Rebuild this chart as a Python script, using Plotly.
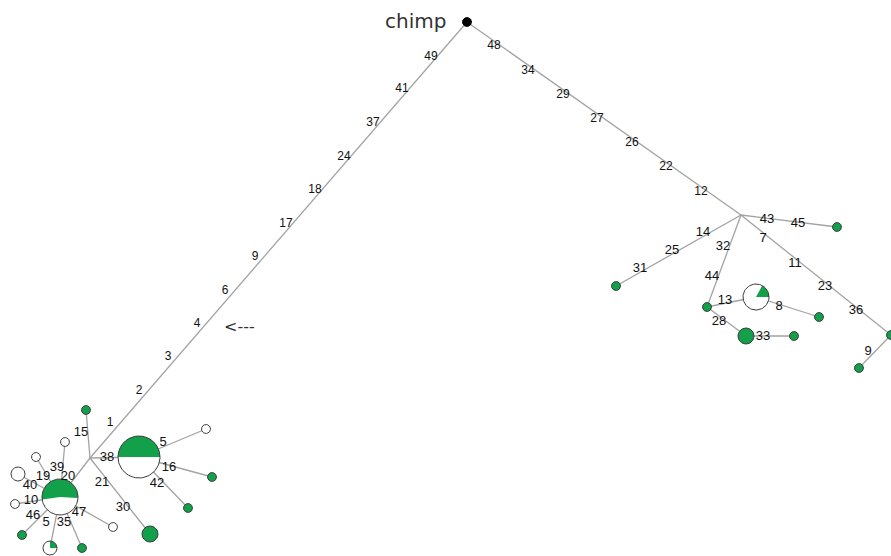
import math
import plotly.graph_objects as go

# ---------------- data ----------------
node_ids = ["chimp", "JL", "JR",
            "g15", "P38", "w5", "g16", "g42", "g30", "P20",
            "w39", "w19", "w40", "w10", "g46", "p5", "g35", "w47",
            "g45", "g31", "g44", "P13", "g8", "G28", "g33", "n36", "g9"]
node_x = [467, 90, 741,
          86, 139, 206, 212, 188, 150, 60,
          65, 36, 18, 15, 22, 50, 82, 113,
          837, 616, 707, 756, 819, 746, 794, 891, 859]
node_y = [22, 458, 215,
          410, 457, 429, 477, 508, 534, 497,
          442, 457, 474, 504, 535, 548, 548, 527,
          227, 286, 307, 297, 317, 336, 336, 335, 368]
node_r = [4.5, 0, 0,
          4.5, 21, 4.5, 4.5, 4.5, 8, 18,
          4.5, 4.5, 7, 4.5, 4.5, 7, 4.5, 4.5,
          4.5, 4.5, 4.5, 13, 4.5, 8, 4.5, 4.5, 4.5]
green_frac = [0, 0, 0,
              1, 0.5, 0, 1, 1, 1, 0.53,
              0, 0, 0, 0, 1, 0.25, 1, 0,
              1, 1, 1, 0.17, 1, 1, 1, 1, 1]
wedge_start = [0, 0, 0,
               0, 0, 0, 0, 0, 0, -3,
               0, 0, 0, 0, 0, 0, 0, 0,
               0, 0, 0, 0, 0, 0, 0, 0, 0]

edge_from = ["chimp", "chimp", "JL", "JL", "P38", "P38", "P38", "JL", "JL",
             "P20", "P20", "P20", "P20", "P20", "P20", "P20", "P20",
             "JR", "JR", "JR", "g44", "P13", "g44", "G28", "JR", "n36"]
edge_to = ["JL", "JR", "g15", "P38", "w5", "g16", "g42", "g30", "P20",
           "w39", "w19", "w40", "w10", "g46", "p5", "g35", "w47",
           "g45", "g31", "g44", "P13", "g8", "G28", "g33", "n36", "g9"]

# mutation labels on the two long branches
trunk_text = ["49", "41", "37", "24", "18", "17", "9", "6", "4", "3", "2", "1",
              "48", "34", "29", "27", "26", "22", "12"]
trunk_x = [431, 402, 373, 344, 315, 286, 255, 225, 197, 168, 139, 110,
           494, 528, 563, 597, 632, 666, 701]
trunk_y = [57, 89, 123, 157, 190, 224, 257, 291, 324, 357, 391, 423,
           46, 71, 95, 119, 143, 167, 192]

# mutation labels inside the clusters
cluster_text = ["43", "45", "14", "25", "31", "32", "44", "13", "8", "28", "33",
                "7", "11", "23", "36", "9",
                "15", "38", "5", "16", "42", "21", "30", "20",
                "39", "19", "40", "10", "46", "5", "35", "47"]
cluster_x = [767, 798, 703, 672, 640, 723, 712, 725, 779, 719, 763,
             763, 795, 825, 856, 868,
             81, 107, 163, 169, 157, 102, 123, 68,
             57, 43, 30, 31, 33, 46, 64, 79]
cluster_y = [220, 224, 233, 251, 269, 247, 277, 301, 307, 322, 337,
             239, 264, 287, 311, 352,
             433, 458, 443, 468, 484, 483, 508, 477,
             468, 477, 486, 501, 516, 523, 523, 513]

GREEN = "#12a04a"
EDGE = "#a3a3a3"
OUTLINE = "#3a3a3a"

idx = {n: i for i, n in enumerate(node_ids)}

fig = go.Figure()

ex, ey = [], []
for a, b in zip(edge_from, edge_to):
    ia, ib = idx[a], idx[b]
    ex += [node_x[ia], node_x[ib], None]
    ey += [node_y[ia], node_y[ib], None]
fig.add_trace(go.Scatter(x=ex, y=ey, mode="lines",
                         line=dict(color=EDGE, width=1.3),
                         hoverinfo="skip", showlegend=False))


def circle_pts(cx, cy, r, a0=0.0, a1=360.0, n=72, center=False):
    xs, ys = [], []
    if center:
        xs.append(cx); ys.append(cy)
    steps = max(int(n * (a1 - a0) / 360.0), 4)
    for k in range(steps + 1):
        t = math.radians(a0 + (a1 - a0) * k / steps)
        xs.append(cx + r * math.cos(t))
        ys.append(cy - r * math.sin(t))
    if center:
        xs.append(cx); ys.append(cy)
    return xs, ys


for i, n in enumerate(node_ids):
    r = node_r[i]
    if r <= 0:
        continue
    cx, cy = node_x[i], node_y[i]
    gf = green_frac[i]
    if n == "chimp":
        xs, ys = circle_pts(cx, cy, r)
        fig.add_trace(go.Scatter(x=xs, y=ys, mode="lines", fill="toself",
                                 fillcolor="black", line=dict(color="black", width=1),
                                 hoverinfo="skip", showlegend=False))
        continue
    base = GREEN if gf >= 1 else "white"
    xs, ys = circle_pts(cx, cy, r)
    fig.add_trace(go.Scatter(x=xs, y=ys, mode="lines", fill="toself",
                             fillcolor=base, line=dict(width=0),
                             hoverinfo="skip", showlegend=False))
    if 0 < gf < 1:
        a0 = wedge_start[i]
        wx, wy = circle_pts(cx, cy, r, a0, a0 + 360 * gf, center=True)
        fig.add_trace(go.Scatter(x=wx, y=wy, mode="lines", fill="toself",
                                 fillcolor=GREEN, line=dict(width=0),
                                 hoverinfo="skip", showlegend=False))
    fig.add_trace(go.Scatter(x=xs, y=ys, mode="lines",
                             line=dict(color=OUTLINE, width=1),
                             hoverinfo="skip", showlegend=False))

fig.add_trace(go.Scatter(x=trunk_x, y=trunk_y, mode="text", text=trunk_text,
                         textfont=dict(family="Liberation Sans, Arial", size=12, color="#111111"),
                         hoverinfo="skip", showlegend=False))
fig.add_trace(go.Scatter(x=cluster_x, y=cluster_y, mode="text", text=cluster_text,
                         textfont=dict(family="Liberation Sans, Arial", size=13, color="#111111"),
                         hoverinfo="skip", showlegend=False))

fig.add_annotation(x=node_x[idx["chimp"]] - 19, y=node_y[idx["chimp"]] - 1,
                   text="chimp", showarrow=False, xanchor="right", yanchor="middle",
                   font=dict(family="DejaVu Sans", size=20, color="#333333"))
fig.add_annotation(x=222, y=326, text="<---", showarrow=False, xanchor="left",
                   yanchor="middle", font=dict(family="DejaVu Sans", size=16, color="#333333"))

fig.update_layout(
    width=891, height=556,
    margin=dict(l=0, r=0, t=0, b=0),
    paper_bgcolor="white", plot_bgcolor="white",
    xaxis=dict(range=[0, 891], visible=False, fixedrange=True),
    yaxis=dict(range=[556, 0], visible=False, fixedrange=True),
)

fig.write_html("out.html", config={"displayModeBar": False},
               post_script="document.body.style.margin='0';")
